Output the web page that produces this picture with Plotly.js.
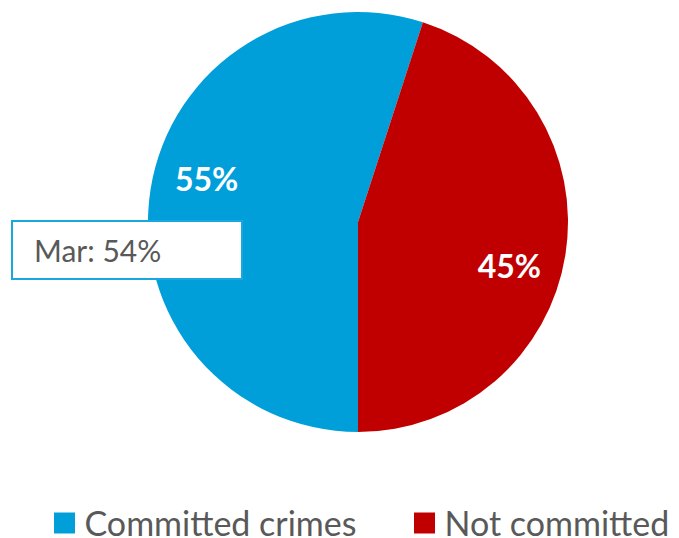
<!DOCTYPE html>
<html><head><meta charset="utf-8">
<script src="https://cdn.plot.ly/plotly-3.0.1.min.js"></script>
<style>html,body{margin:0;padding:0;background:#fff}#chart{width:679px;height:538px}</style>
</head><body><div id="chart"></div>
<script>
const labels = ["Committed crimes", "Not committed"];
const values = [55, 45];
const colors = ["#009FDA", "#C00000"];
const noteText = "Mar: 54%";

const W = 679, H = 538;
const px = x => x / W, py = y => 1 - y / H;
const FONT = "Lato, 'Open Sans', sans-serif";
const dom = {x: [px(148), px(568)], y: [py(432), py(12)]};

const pieTrace = {
  type: "pie", labels: labels, values: values,
  marker: {colors: colors, line: {width: 0}},
  sort: false, direction: "clockwise", rotation: 180,
  textinfo: "none", hoverinfo: "none", domain: dom
};
// transparent ring that only carries the percentage labels (places them further out)
const textTrace = {
  type: "pie", labels: labels, values: values,
  marker: {colors: ["rgba(0,0,0,0)", "rgba(0,0,0,0)"], line: {width: 0}},
  sort: false, direction: "clockwise", rotation: 187, hole: 0.5,
  showlegend: false,
  texttemplate: "%{percent:.0%}", textposition: "inside",
  insidetextorientation: "horizontal",
  textfont: {family: FONT, size: 32, color: "#ffffff", weight: 700},
  hoverinfo: "none", domain: dom
};

const layout = {
  width: W, height: H,
  margin: {l: 0, r: 0, t: 0, b: 0},
  paper_bgcolor: "#ffffff",
  showlegend: true,
  legend: {
    orientation: "h", x: px(40), xanchor: "left", y: 0, yanchor: "bottom",
    font: {family: FONT, size: 34, color: "#595959"},
    itemwidth: 30, traceorder: "normal", bgcolor: "rgba(0,0,0,0)"
  },
  shapes: [{
    type: "rect", xref: "paper", yref: "paper",
    x0: px(12), x1: px(242), y0: py(279), y1: py(221),
    line: {color: "#1AA7DF", width: 2}, fillcolor: "#ffffff", layer: "above"
  }],
  annotations: [{
    xref: "paper", yref: "paper", x: px(32), y: py(250), xanchor: "left", yanchor: "middle",
    text: noteText, showarrow: false,
    font: {family: FONT, size: 30, color: "#595959"}
  }]
};

// legend symbol centres in the reference picture
const legendSymbolX = [64.5, 424.5];
const legendSymbolY = 523;

Plotly.newPlot("chart", [pieTrace, textTrace], layout, {displayModeBar: false, staticPlot: true}).then(gd => {
  const leg = gd.querySelector(".legend");
  if (!leg) return;
  leg.querySelectorAll("[clip-path]").forEach(n => n.removeAttribute("clip-path"));
  leg.querySelectorAll(".legendpoints path").forEach(p => p.setAttribute("d", "M10.5,10.5H-10.5V-10.5H10.5Z"));
  const host = gd.getBoundingClientRect();
  leg.querySelectorAll(".traces").forEach((it, i) => {
    const p = it.querySelector(".legendpoints path");
    if (!p || legendSymbolX[i] === undefined) return;
    const r = p.getBoundingClientRect();
    const cx = (r.left + r.right) / 2 - host.left, cy = (r.top + r.bottom) / 2 - host.top;
    const m = /translate\(\s*([-\d.eE]+)[ ,]+([-\d.eE]+)\s*\)/.exec(it.getAttribute("transform") || "translate(0,0)");
    const tx = (m ? +m[1] : 0) + legendSymbolX[i] - cx;
    const ty = (m ? +m[2] : 0) + legendSymbolY - cy;
    it.setAttribute("transform", "translate(" + tx + "," + ty + ")");
  });
});
</script></body></html>
